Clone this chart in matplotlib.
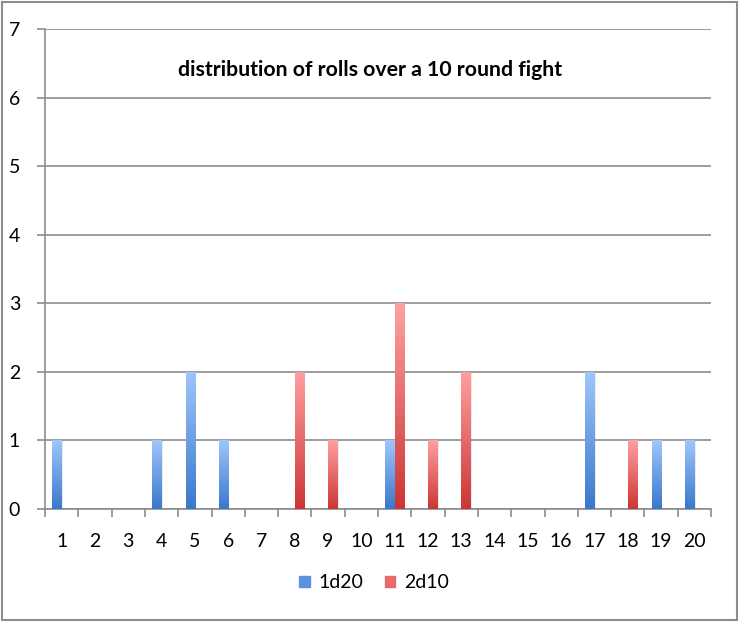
import numpy as np
import matplotlib
matplotlib.use("Agg")
import matplotlib.pyplot as plt
from matplotlib.colors import LinearSegmentedColormap
from matplotlib.patches import Rectangle

plt.rcParams['font.family'] = ['Lato', 'DejaVu Sans']

# данные
rolls = [str(i) for i in range(1, 21)]
d20 = [1, 0, 0, 1, 2, 1, 0, 0, 0, 0, 1, 0, 0, 0, 0, 0, 2, 0, 1, 1]
d10 = [0, 0, 0, 0, 0, 0, 0, 2, 1, 0, 3, 1, 2, 0, 0, 0, 0, 1, 0, 0]
title = "distribution of rolls over a 10 round fight"

blue_cmap = LinearSegmentedColormap.from_list("b", ["#3a78cc", "#9fc6fb"])
red_cmap = LinearSegmentedColormap.from_list("r", ["#cc3535", "#ffa0a0"])

fig = plt.figure(figsize=(7.4, 6.22), dpi=100)
ax = fig.add_axes([45 / 740, 1 - 509 / 622, 666 / 740, 480 / 622])

x = np.arange(len(rolls))
w = 0.28
grad = np.linspace(0, 1, 256).reshape(-1, 1)


def gradient_bars(xs, vals, cmap):
    bars = ax.bar(xs, vals, width=w, color="none", edgecolor="none", zorder=3)
    for b in bars:
        h = b.get_height()
        if h <= 0:
            continue
        x0 = b.get_x()
        # лёгкая тень справа
        ax.add_patch(Rectangle((x0 + 0.04, 0), w, h, color="#000000", alpha=0.08, zorder=2.5, lw=0))
        im = ax.imshow(grad, cmap=cmap, aspect="auto", origin="lower",
                       extent=(x0, x0 + w, 0, h), zorder=3)
        im.set_clip_path(b)
    return bars


gradient_bars(x - w / 2, d20, blue_cmap)
gradient_bars(x + w / 2, d10, red_cmap)

ax.set_xlim(-0.5, len(rolls) - 0.5)
ax.set_ylim(0, 7)
ax.set_yticks(range(8))
ax.yaxis.grid(True, color="#8c8c8c", linewidth=1.2)
ax.set_axisbelow(True)

# метки категорий и штрихи между ними
ax.set_xticks(np.arange(-0.5, len(rolls)), minor=False)
ax.set_xticklabels([])
ax.set_xticks(x, minor=True)
ax.set_xticklabels(rolls, minor=True)
ax.tick_params(axis="x", which="major", length=6, width=1.2, color="#8c8c8c", direction="out")
ax.tick_params(axis="x", which="minor", length=0, pad=17, labelsize=14)
ax.tick_params(axis="y", length=6, width=1.2, color="#8c8c8c", pad=12, labelsize=14)

for s in ["top", "right"]:
    ax.spines[s].set_visible(False)
for s in ["left", "bottom"]:
    ax.spines[s].set_color("#8c8c8c")
    ax.spines[s].set_linewidth(1.2)

fig.text(370 / 740, 1 - 70 / 622, title, ha="center", va="center", fontsize=15.3, fontweight="bold")

# легенда
h1 = Rectangle((0, 0), 1, 1, color="#5b92e0")
h2 = Rectangle((0, 0), 1, 1, color="#e86a6a")
fig.legend([h1, h2], ["1d20", "2d10"], loc="center", bbox_to_anchor=(374 / 740, 1 - 583 / 622),
           ncol=2, frameon=False, fontsize=14, handlelength=0.55, handleheight=0.55,
           handletextpad=0.45, columnspacing=1.1)

# рамка вокруг всего рисунка
fig.patches.append(Rectangle((2 / 740, 2 / 622), 735 / 740, 618 / 622, transform=fig.transFigure,
                             fill=False, edgecolor="#8c8c8c", linewidth=1.5))

fig.savefig("out.png", dpi=100)
